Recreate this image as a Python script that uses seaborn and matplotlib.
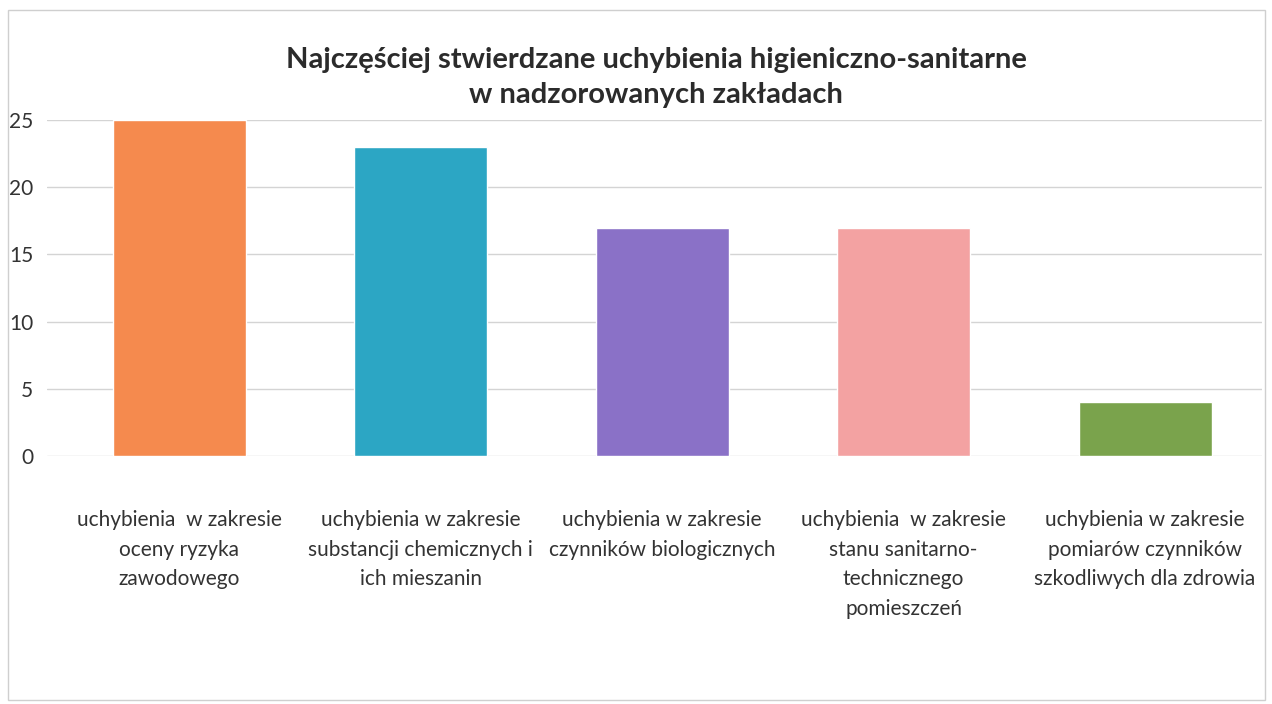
import matplotlib
matplotlib.use("Agg")
import matplotlib.pyplot as plt
import seaborn as sns
import pandas as pd
from matplotlib.patches import Rectangle

categories = [
    "uchybienia  w zakresie\noceny ryzyka\nzawodowego",
    "uchybienia w zakresie\nsubstancji chemicznych i\nich mieszanin",
    "uchybienia w zakresie\nczynników biologicznych",
    "uchybienia  w zakresie\nstanu sanitarno-\ntechnicznego\npomieszczeń",
    "uchybienia w zakresie\npomiarów czynników\nszkodliwych dla zdrowia",
]
values = [25, 23, 17, 17, 4]
colors = ["#F58A4E", "#2CA6C4", "#8A71C7", "#F3A2A2", "#7AA34C"]
yticks = [0, 5, 10, 15, 20, 25]
title = "Najczęściej stwierdzane uchybienia higieniczno-sanitarne\nw nadzorowanych zakładach"

sns.set_theme(style="white")
plt.rcParams['font.family'] = ['Lato', 'DejaVu Sans']

df = pd.DataFrame({"cat": categories, "val": values})

fig = plt.figure(figsize=(12.72, 7.04), dpi=100)
ax = fig.add_axes([47/1272, 1-456/704, (1262-47)/1272, (456-120)/704])

sns.barplot(data=df, x="cat", y="val", hue="cat", palette=colors,
            legend=False, width=0.55, ax=ax, saturation=1, zorder=3)

ax.set_ylim(0, 25)
ax.set_yticks(yticks)
ax.set_xlim(-0.547, 4.484)
ax.grid(axis="y", color="#d4d4d4", linewidth=1.0, zorder=0)
ax.grid(axis="x", visible=False)
for s in ax.spines.values():
    s.set_visible(False)
ax.set_xlabel("")
ax.set_ylabel("")
ax.tick_params(axis="y", length=0, pad=10, labelsize=15, labelcolor="#333333")
ax.tick_params(axis="x", length=0, pad=39, labelsize=15, labelcolor="#333333")
for lbl in ax.get_xticklabels():
    lbl.set_linespacing(1.6)
    lbl.set_ha("center")

fig.text(656/1272, 1-47/704, title, ha="center", va="top", fontsize=21,
         fontweight="bold", color="#2b2b2b", linespacing=1.42)

fig.patches.append(Rectangle((8/1272, 4/704), 1257/1272, 690/704,
                             transform=fig.transFigure, fill=False,
                             edgecolor="#cfcfcf", linewidth=1))

fig.savefig("out.png", dpi=100, facecolor="white")
